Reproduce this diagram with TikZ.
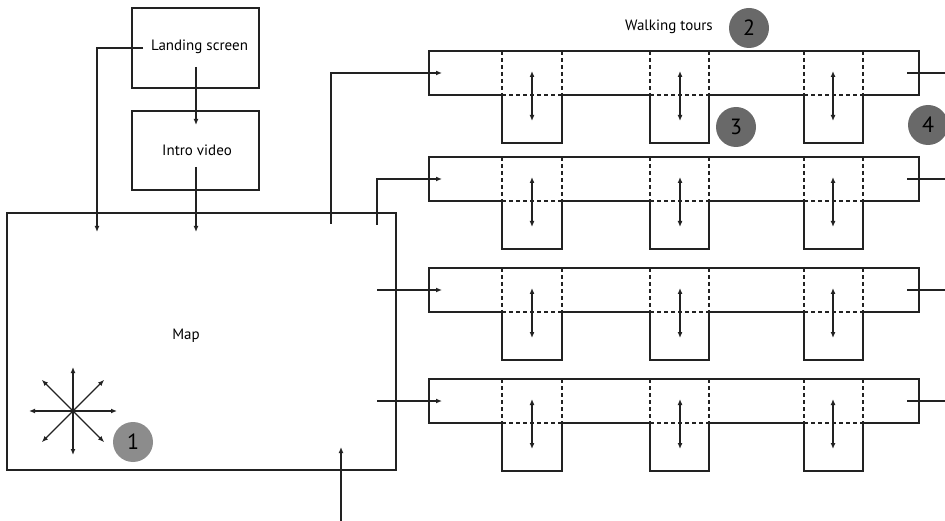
\documentclass[tikz,border=0pt]{standalone}
\usepackage{fontspec}
\setmainfont{PT Sans}
\usetikzlibrary{arrows.meta}
\definecolor{ln}{HTML}{222222}
\definecolor{badgeA}{HTML}{8C8C8C}
\definecolor{badgeB}{HTML}{696969}
\tikzset{
  tip/.style={-{Latex[length=6pt,width=5pt]}},
  dtip/.style={{Latex[length=6pt,width=5pt]}-{Latex[length=6pt,width=5pt]}},
  lbl/.style={font=\fontsize{15}{17}\selectfont, text=black, inner sep=0pt},
  badge/.style={circle, minimum size=40pt, inner sep=0pt, draw=none, font=\fontsize{22}{24}\selectfont, text=black},
  screenbox/.style={draw=ln, minimum width=127pt, minimum height=80pt, inner sep=0pt},
  rowbox/.style={minimum width=490pt, minimum height=44pt, inner sep=0pt, draw=none},
  dsh/.style={dash pattern=on 4pt off 3pt},
}
\begin{document}
\begin{tikzpicture}[x=1pt,y=-1pt, color=ln, line width=1.2pt]
\useasboundingbox (0,0) rectangle (945,521);
% screens
\node[screenbox] (landing) at (195.5,48) {};
\node[lbl] (landingt) at (199.5,47) {Landing screen};
\node[screenbox, minimum height=79pt] (intro) at (195.5,150.5) {};
\node[lbl] (introt) at (197,150) {Intro video};
\node[draw=ln, minimum width=389pt, minimum height=257pt, inner sep=0pt] (map) at (201.5,341.5) {};
\node[lbl] (mapt) at (186,336) {Map};
\node[lbl] (walk) at (669,27) {Walking tours};
% connectors among screens
\coordinate (ls1) at (196,67); \coordinate (iv1) at (196,125);
\coordinate (iv2) at (196,167); \coordinate (mp1) at (196,232);
\coordinate (ls2) at (143,48); \coordinate (mp2) at (97,232);
\draw[tip] (ls1) -- (iv1);
\draw[tip] (iv2) -- (mp1);
\draw[tip] (ls2) -| (mp2);
\coordinate (bot0) at (341,521); \coordinate (bot1) at (341,447);
\draw[tip] (bot0) -- (bot1);
% rows
\foreach \i/\T in {1/51,2/157,3/268,4/379}{
  \node[rowbox, anchor=north west] (row\i) at (429,\T) {};
  \draw (429,\T) -- (919,\T) -- (919,\T+44) -- (863,\T+44) -- (863,\T+92) -- (804,\T+92) -- (804,\T+44)
    -- (709,\T+44) -- (709,\T+92) -- (650,\T+92) -- (650,\T+44) -- (562,\T+44) -- (562,\T+92)
    -- (502,\T+92) -- (502,\T+44) -- (429,\T+44) -- cycle;
  \foreach \a/\b/\c in {502/562/532, 650/709/680, 804/863/833}{
    \draw[dsh] (\a,\T) -- (\a,\T+44);
    \draw[dsh] (\b,\T) -- (\b,\T+44);
    \draw[dsh] (\a,\T+44) -- (\b,\T+44);
    \draw[dtip] (\c,\T+20) -- (\c,\T+70);
  }
  \coordinate (in\i) at (442,\T+22);
  \coordinate (out\i) at (907,\T+22);
  \coordinate (edge\i) at (945,\T+22);
  \draw (out\i) -- (edge\i);
}
\coordinate (m1) at (331,224); \coordinate (m2) at (377,225);
\coordinate (m3) at (377,290); \coordinate (m4) at (377,401);
\draw[tip] (m1) |- (in1);
\draw[tip] (m2) |- (in2);
\draw[tip] (m3) -- (in3);
\draw[tip] (m4) -- (in4);
% compass
\coordinate (cc) at (73,411);
\fill (cc) circle (1.6pt);
\foreach \ang in {0,45,...,315}{
  \draw[tip] (cc) -- ++(\ang:44);
}
% badges
\node[badge, fill=badgeA] (b1) at (133,442) {1};
\node[badge, fill=badgeB] (b2) at (749,28) {2};
\node[badge, fill=badgeB] (b3) at (736,127) {3};
\node[badge, fill=badgeB] (b4) at (928,125) {4};
\end{tikzpicture}
\end{document}
